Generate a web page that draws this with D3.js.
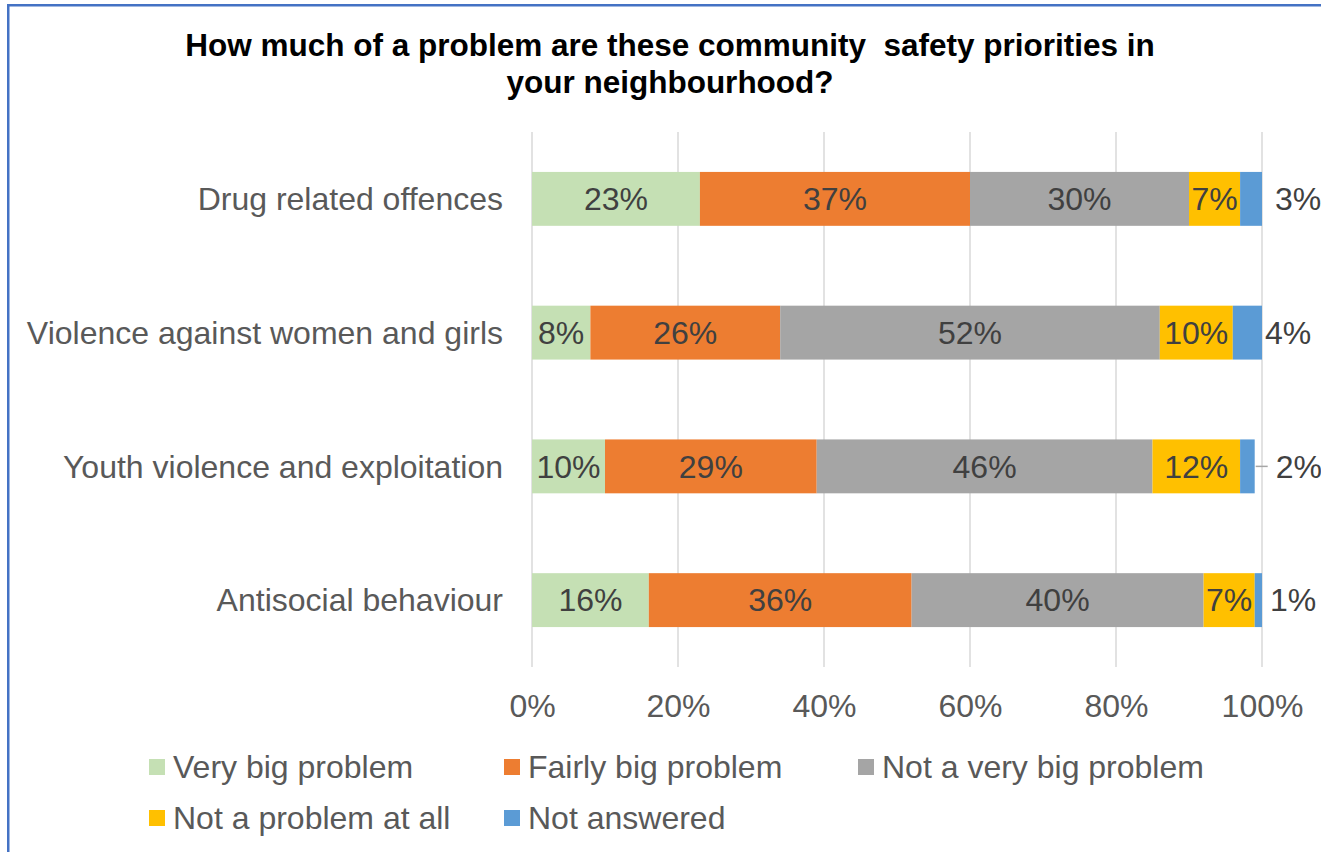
<!DOCTYPE html>
<html>
<head>
<meta charset="utf-8">
<script src="https://cdn.jsdelivr.net/npm/d3@7"></script>
<style>
  html, body { margin: 0; padding: 0; background: #fff; }
  svg { display: block; font-family: "Liberation Sans", Arial, sans-serif; }
</style>
</head>
<body>
<svg id="chart" width="1321" height="852"></svg>
<script>
// Survey categories (top to bottom)
const categories = [
  "Drug related offences",
  "Violence against women and girls",
  "Youth violence and exploitation",
  "Antisocial behaviour"
];

// Response options, in stacking order
const seriesNames = [
  "Very big problem",
  "Fairly big problem",
  "Not a very big problem",
  "Not a problem at all",
  "Not answered"
];

// Percentages per response option, one value per category
const veryBig      = [23, 8, 10, 16];
const fairlyBig    = [37, 26, 29, 36];
const notVeryBig   = [30, 52, 46, 40];
const notAtAll     = [7, 10, 12, 7];
const notAnswered  = [3, 4, 2, 1];

const tickValues = [0, 20, 40, 60, 80, 100];

const seriesColors = ["#C5E0B4", "#ED7D31", "#A5A5A5", "#FFC000", "#5B9BD5"];

// Offsets for the "Not answered" labels placed beyond the bar end
const outsideLabelDx = [13, 3, 21, 8];
const outsideLeader  = [false, false, true, false];

const seriesValues = [veryBig, fairlyBig, notVeryBig, notAtAll, notAnswered];
const rows = categories.map((c, i) => {
  const r = { category: c };
  seriesNames.forEach((s, k) => { r[s] = seriesValues[k][i]; });
  return r;
});

const svg = d3.select("#chart");

// Outer frame
svg.append("rect")
  .attr("x", 8.25).attr("y", 5.25)
  .attr("width", 1500).attr("height", 1000)
  .attr("fill", "none")
  .attr("stroke", "#4472C4")
  .attr("stroke-width", 2.5);

// Title
const title = svg.append("text")
  .attr("text-anchor", "middle")
  .attr("font-weight", "bold")
  .attr("font-size", 31.5)
  .attr("fill", "#000");
title.append("tspan").attr("x", 670).attr("y", 56)
  .text("How much of a problem are these community\u00A0 safety priorities in");
title.append("tspan").attr("x", 670).attr("y", 93)
  .text("your neighbourhood?");

const plot = { left: 532, right: 1262, top: 132, bottom: 667 };

const x = d3.scaleLinear().domain([0, 100]).range([plot.left, plot.right]);
const y = d3.scaleBand().domain(categories)
  .range([plot.top, plot.bottom])
  .paddingInner(0.597).paddingOuter(0.2985);

// Vertical gridlines
svg.append("g")
  .selectAll("line")
  .data(tickValues)
  .join("line")
  .attr("x1", d => x(d)).attr("x2", d => x(d))
  .attr("y1", plot.top).attr("y2", plot.bottom)
  .attr("stroke", "#D9D9D9")
  .attr("stroke-width", 1.5);

// X axis tick labels
const xAxis = d3.axisBottom(x)
  .tickValues(tickValues)
  .tickFormat(d => d + "%")
  .tickSize(0)
  .tickPadding(0);
const gx = svg.append("g")
  .attr("transform", `translate(0, ${plot.bottom})`)
  .call(xAxis);
gx.select(".domain").remove();
gx.selectAll("text")
  .attr("font-size", 32)
  .attr("font-family", "Liberation Sans, Arial, sans-serif")
  .attr("fill", "#595959")
  .attr("dy", null)
  .attr("y", 50);

// Y axis category labels
const yAxis = d3.axisLeft(y).tickSize(0).tickPadding(0);
const gy = svg.append("g")
  .attr("transform", `translate(${plot.left - 29}, 0)`)
  .call(yAxis);
gy.select(".domain").remove();
gy.selectAll("text")
  .attr("font-size", 32)
  .attr("font-family", "Liberation Sans, Arial, sans-serif")
  .attr("fill", "#595959")
  .attr("dy", "0.35em");

// Stacked bars
const stacked = d3.stack().keys(seriesNames)(rows);
const layers = svg.append("g")
  .selectAll("g")
  .data(stacked)
  .join("g")
  .attr("fill", (d, i) => seriesColors[i]);

layers.selectAll("rect")
  .data(d => d)
  .join("rect")
  .attr("x", d => x(d[0]))
  .attr("width", d => x(d[1]) - x(d[0]))
  .attr("y", d => y(d.data.category))
  .attr("height", y.bandwidth());

// Data labels
stacked.forEach((layer, k) => {
  const last = k === stacked.length - 1;
  layer.forEach((d, i) => {
    const cy = y(d.data.category) + y.bandwidth() / 2;
    const val = d[1] - d[0];
    if (!last) {
      svg.append("text")
        .attr("x", (x(d[0]) + x(d[1])) / 2)
        .attr("y", cy)
        .attr("dy", "0.35em")
        .attr("text-anchor", "middle")
        .attr("font-size", 32)
        .attr("fill", "#404040")
        .text(val + "%");
    } else {
      const xEnd = x(d[1]);
      if (outsideLeader[i]) {
        svg.append("line")
          .attr("x1", xEnd + 1).attr("x2", xEnd + outsideLabelDx[i] - 8)
          .attr("y1", cy).attr("y2", cy)
          .attr("stroke", "#A6A6A6")
          .attr("stroke-width", 1.5);
      }
      svg.append("text")
        .attr("x", xEnd + outsideLabelDx[i])
        .attr("y", cy)
        .attr("dy", "0.35em")
        .attr("text-anchor", "start")
        .attr("font-size", 32)
        .attr("fill", "#404040")
        .text(val + "%");
    }
  });
});

// Legend
const legendPos = [
  [149, 767], [504, 767], [858, 767],
  [149, 818], [504, 818]
];
const legend = svg.append("g")
  .selectAll("g")
  .data(seriesNames)
  .join("g")
  .attr("transform", (d, i) => `translate(${legendPos[i][0]}, ${legendPos[i][1]})`);
legend.append("rect")
  .attr("x", 0).attr("y", -8)
  .attr("width", 16).attr("height", 16)
  .attr("fill", (d, i) => seriesColors[i]);
legend.append("text")
  .attr("x", 24)
  .attr("y", 0)
  .attr("dy", "0.35em")
  .attr("font-size", 32)
  .attr("fill", "#595959")
  .text(d => d);
</script>
</body>
</html>
